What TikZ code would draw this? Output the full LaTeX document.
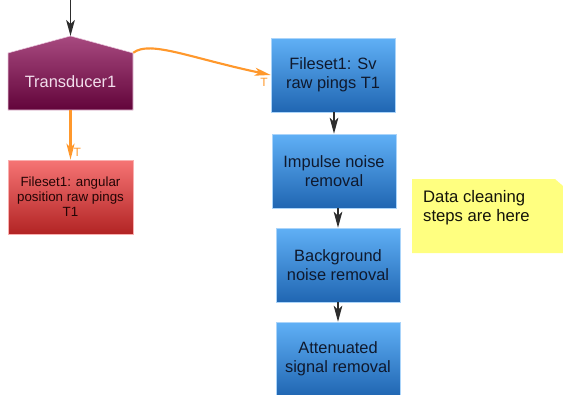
\documentclass[tikz,border=0pt]{standalone}
\usepackage{fontspec}
\setmainfont{Liberation Sans}
\usetikzlibrary{arrows.meta, positioning, calc}

\definecolor{transtop}{RGB}{168,74,128}
\definecolor{transbot}{RGB}{98,4,58}
\definecolor{steptop}{RGB}{96,176,246}
\definecolor{stepbot}{RGB}{32,102,178}
\definecolor{fsettop}{RGB}{246,116,116}
\definecolor{fsetbot}{RGB}{178,36,36}
\definecolor{notefill}{RGB}{255,255,128}
\definecolor{linkorange}{RGB}{255,152,44}
\definecolor{flowgrey}{RGB}{45,45,45}

\tikzset{
  stepbox/.style={rectangle, draw={rgb,255:red,170;green,212;blue,250}, line width=0.4pt,
    top color=steptop, bottom color=stepbot, text={rgb,255:red,15;green,25;blue,45},
    minimum width=93pt, minimum height=55.5pt, align=center, inner sep=2pt,
    font=\fontsize{12.3}{14.5}\selectfont},
  fsetbox/.style={rectangle, draw={rgb,255:red,250;green,175;blue,175}, line width=0.4pt,
    top color=fsettop, bottom color=fsetbot, text={rgb,255:red,35;green,5;blue,5},
    minimum width=93.75pt, minimum height=55.5pt, align=center, inner sep=2pt,
    font=\fontsize{10}{11.3}\selectfont},
  transtext/.style={rectangle, minimum width=93.75pt, minimum height=42.75pt, inner sep=0pt,
    text={rgb,255:red,242;green,222;blue,236}, font=\fontsize{12.3}{14.5}\selectfont},
  transshade/.style={top color=transtop, bottom color=transbot,
    draw={rgb,255:red,235;green,200;blue,222}, line width=0.4pt},
  notetext/.style={rectangle, anchor=north west, align=left, inner xsep=8.2pt, inner ysep=8pt,
    font=\fontsize{12.5}{14.3}\selectfont, text={rgb,255:red,20;green,20;blue,10}},
  flowarrow/.style={draw=flowgrey, line width=1.1pt, -{Stealth[length=12pt, width=6.5pt, inset=3pt]}},
  linkarrow/.style={draw=linkorange, line width=1.6pt, -{Stealth[length=12pt, width=6pt, inset=3pt]}},
  tlabel/.style={text=linkorange, font=\fontsize{9}{10}\selectfont, inner sep=1.5pt}
}

\begin{document}
\begin{tikzpicture}[x=0.75pt,y=0.75pt,yscale=-1,xscale=1]
%set diagram left start at 0, size 563 x 394
\useasboundingbox (0,0) rectangle (563,394);

%Shape: Transducer (house)
\coordinate (feed) at (70.5,0);
\coordinate (apex) at (70.5,36);
\shade [transshade] (8,110) -- (8,53) -- (apex) -- (133,53) -- (133,110) -- cycle;
\node [transtext] (trans) at (70.5,81.5) {Transducer1};

%Shape: fileset boxes
\node [fsetbox] (angfile) at (70.5,197) {Fileset1: angular\\position raw pings\\T1};
\node [stepbox] (svfile) at (333,75) {Fileset1: Sv\\raw pings T1};

%Shape: cleaning steps
\node [stepbox] (impulse) at (334,171) {Impulse noise\\removal};
\node [stepbox] (background) at (338,265) {Background\\noise removal};
\node [stepbox] (attenuated) at (338,359) {Attenuated\\signal removal};

%Shape: note
\fill [notefill] (412,179) -- (555,179) -- (563,186) -- (563,253) -- (412,253) -- cycle;
\node [notetext] (note) at (412,179) {Data cleaning\\steps are here};

%Connectors
\draw [flowarrow] (feed) -- (apex);
\draw [linkarrow] (trans.north east) .. controls (150,40) and (190,58) .. (svfile.west)
  node [tlabel, at end, anchor=north east] {T};
\draw [linkarrow] (trans.south) -- (angfile.north)
  node [tlabel, at end, anchor=south west] {T};
\draw [flowarrow] (impulse.north |- svfile.south) -- (impulse.north);
\draw [flowarrow] (background.north |- impulse.south) -- (background.north);
\draw [flowarrow] (attenuated.north |- background.south) -- (attenuated.north);

\end{tikzpicture}
\end{document}
